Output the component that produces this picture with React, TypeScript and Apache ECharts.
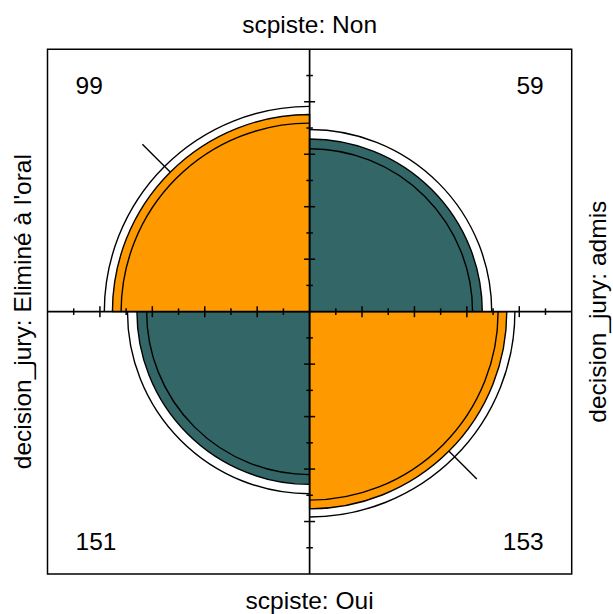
import React, { useEffect, useRef } from "react";
import * as echarts from "echarts";

// ---- data ----
const rowVariable = "scpiste";
const rowLevels = ["Non", "Oui"];
const colVariable = "decision_jury";
const colLevels = ["Eliminé à l'oral", "admis"];
// counts[row][col] : rows = scpiste (Non, Oui), cols = decision_jury (Eliminé à l'oral, admis)
const counts = [
  [99, 59],
  [151, 153],
];
const zQuantile = 1.959964; // 95% confidence rings
const tickPositions = [0.1, 0.2, 0.3, 0.4, 0.5, 0.6, 0.7, 0.8, 0.9];
const majorTickPositions = [0.2, 0.4, 0.6, 0.8];
const diagonalTickLength = 0.15;

const diagColor = "#FF9900";
const offDiagColor = "#336666";
const FONT = "'Liberation Sans', Arial, Helvetica, sans-serif";

// ---- fourfold standardisation (equal margins) ----
const a = counts[0][0];
const b = counts[0][1];
const c = counts[1][0];
const d = counts[1][1];
const oddsRatio = (a * d) / (b * c);
const seLog = Math.sqrt(1 / a + 1 / b + 1 / c + 1 / d);
const orLower = Math.exp(Math.log(oddsRatio) - zQuantile * seLog);
const orUpper = Math.exp(Math.log(oddsRatio) + zQuantile * seLog);
const diagShare = (t: number) => Math.sqrt(t) / (1 + Math.sqrt(t));

type Cell = {
  row: number;
  col: number;
  count: number;
  diag: boolean;
  radius: number;
  rings: number[];
};

const cells: Cell[] = [];
for (let row = 0; row < 2; row++) {
  for (let col = 0; col < 2; col++) {
    const diag = row === col;
    const share = (t: number) => (diag ? diagShare(t) : 1 - diagShare(t));
    cells.push({
      row,
      col,
      count: counts[row][col],
      diag,
      radius: Math.sqrt(share(oddsRatio)),
      rings: [Math.sqrt(share(orLower)), Math.sqrt(share(orUpper))],
    });
  }
}

const quadrantAngles = (row: number, col: number): [number, number] => {
  if (row === 0 && col === 0) return [Math.PI, 1.5 * Math.PI];
  if (row === 0 && col === 1) return [1.5 * Math.PI, 2 * Math.PI];
  if (row === 1 && col === 0) return [0.5 * Math.PI, Math.PI];
  return [0, 0.5 * Math.PI];
};

const marginLabels = [
  { text: `${rowVariable}: ${rowLevels[0]}`, pos: [0, 1.095], rot: 0 },
  { text: `${rowVariable}: ${rowLevels[1]}`, pos: [0, -1.1], rot: 0 },
  { text: `${colVariable}: ${colLevels[0]}`, pos: [-1.095, 0], rot: Math.PI / 2 },
  { text: `${colVariable}: ${colLevels[1]}`, pos: [1.097, 0], rot: Math.PI / 2 },
];

export default function App() {
  const ref = useRef<HTMLDivElement>(null);

  useEffect(() => {
    if (!ref.current) return;
    const chart = echarts.init(ref.current, undefined, { renderer: "svg" });

    const option: any = {
      animation: false,
      backgroundColor: "#ffffff",
      grid: { left: 47.5, top: 49.3, width: 524.2, height: 524.7 },
      xAxis: { type: "value", min: -1, max: 1, show: false },
      yAxis: { type: "value", min: -1, max: 1, show: false },
      series: [
        {
          type: "custom",
          name: "cells",
          coordinateSystem: "cartesian2d",
          clip: false,
          data: cells.map((cl) => [cl.col, cl.row, cl.count]),
          renderItem: (params: any, api: any) => {
            const cell = cells[params.dataIndex];
            const [cx, cy] = api.coord([0, 0]);
            const ux = api.size([1, 1])[0];
            const [s, e] = quadrantAngles(cell.row, cell.col);
            const sx = cell.col === 0 ? -1 : 1;
            const sy = cell.row === 0 ? 1 : -1;
            const children: any[] = [
              {
                type: "sector",
                shape: { cx, cy, r0: 0, r: cell.radius * ux, startAngle: s, endAngle: e, clockwise: true },
                style: { fill: cell.diag ? diagColor : offDiagColor, stroke: "#000", lineWidth: 1.4 },
              },
            ];
            cell.rings.forEach((rr) => {
              children.push({
                type: "arc",
                shape: { cx, cy, r: rr * ux, startAngle: s, endAngle: e, clockwise: true },
                style: { stroke: "#000", fill: null, lineWidth: 1.4 },
              });
            });
            if (cell.diag) {
              const k = Math.SQRT1_2;
              const p1 = api.coord([sx * cell.radius * k, sy * cell.radius * k]);
              const p2 = api.coord([
                sx * (cell.radius + diagonalTickLength) * k,
                sy * (cell.radius + diagonalTickLength) * k,
              ]);
              children.push({
                type: "line",
                shape: { x1: p1[0], y1: p1[1], x2: p2[0], y2: p2[1] },
                style: { stroke: "#000", lineWidth: 1.4 },
              });
            }
            const tp = api.coord([sx * 0.893, sy === 1 ? 0.863 : -0.876]);
            children.push({
              type: "text",
              x: tp[0],
              y: tp[1],
              style: {
                text: String(cell.count),
                fontSize: 24.5,
                fontFamily: FONT,
                fill: "#000",
                align: cell.col === 0 ? "left" : "right",
                verticalAlign: "middle",
              },
            });
            return { type: "group", children };
          },
        },
        {
          type: "custom",
          name: "axes",
          coordinateSystem: "cartesian2d",
          clip: false,
          data: tickPositions.map((t) => [t, t]),
          renderItem: (params: any, api: any) => {
            const t = tickPositions[params.dataIndex];
            const half = majorTickPositions.includes(t) ? 0.021 : 0.0125;
            const children: any[] = [];
            [-1, 1].forEach((sgn) => {
              const h1 = api.coord([sgn * t, -half]);
              const h2 = api.coord([sgn * t, half]);
              children.push({
                type: "line",
                shape: { x1: h1[0], y1: h1[1], x2: h2[0], y2: h2[1] },
                style: { stroke: "#000", lineWidth: 1.5 },
              });
              const v1 = api.coord([-half, sgn * t]);
              const v2 = api.coord([half, sgn * t]);
              children.push({
                type: "line",
                shape: { x1: v1[0], y1: v1[1], x2: v2[0], y2: v2[1] },
                style: { stroke: "#000", lineWidth: 1.5 },
              });
            });
            if (params.dataIndex === 0) {
              const l = api.coord([-1, 0]);
              const r = api.coord([1, 0]);
              const tp = api.coord([0, 1]);
              const bt = api.coord([0, -1]);
              children.push({
                type: "line",
                shape: { x1: l[0], y1: l[1], x2: r[0], y2: r[1] },
                style: { stroke: "#000", lineWidth: 1.7 },
              });
              children.push({
                type: "line",
                shape: { x1: tp[0], y1: tp[1], x2: bt[0], y2: bt[1] },
                style: { stroke: "#000", lineWidth: 1.7 },
              });
              const tl = api.coord([-1, 1]);
              const br = api.coord([1, -1]);
              children.push({
                type: "rect",
                shape: { x: tl[0], y: tl[1], width: br[0] - tl[0], height: br[1] - tl[1] },
                style: { fill: null, stroke: "#000", lineWidth: 1.5 },
              });
            }
            return { type: "group", children };
          },
        },
        {
          type: "custom",
          name: "labels",
          coordinateSystem: "cartesian2d",
          clip: false,
          data: marginLabels.map((m) => m.pos),
          renderItem: (params: any, api: any) => {
            const m = marginLabels[params.dataIndex];
            const p = api.coord(m.pos);
            return {
              type: "text",
              x: p[0],
              y: p[1],
              rotation: m.rot,
              style: {
                text: m.text,
                fontSize: 24.5,
                fontFamily: FONT,
                fill: "#000",
                align: "center",
                verticalAlign: "middle",
              },
            };
          },
        },
      ],
    };

    chart.setOption(option);
    return () => chart.dispose();
  }, []);

  return (
    <div
      ref={ref}
      style={{ position: "absolute", left: 0, top: 0, width: 613, height: 614 }}
    />
  );
}
